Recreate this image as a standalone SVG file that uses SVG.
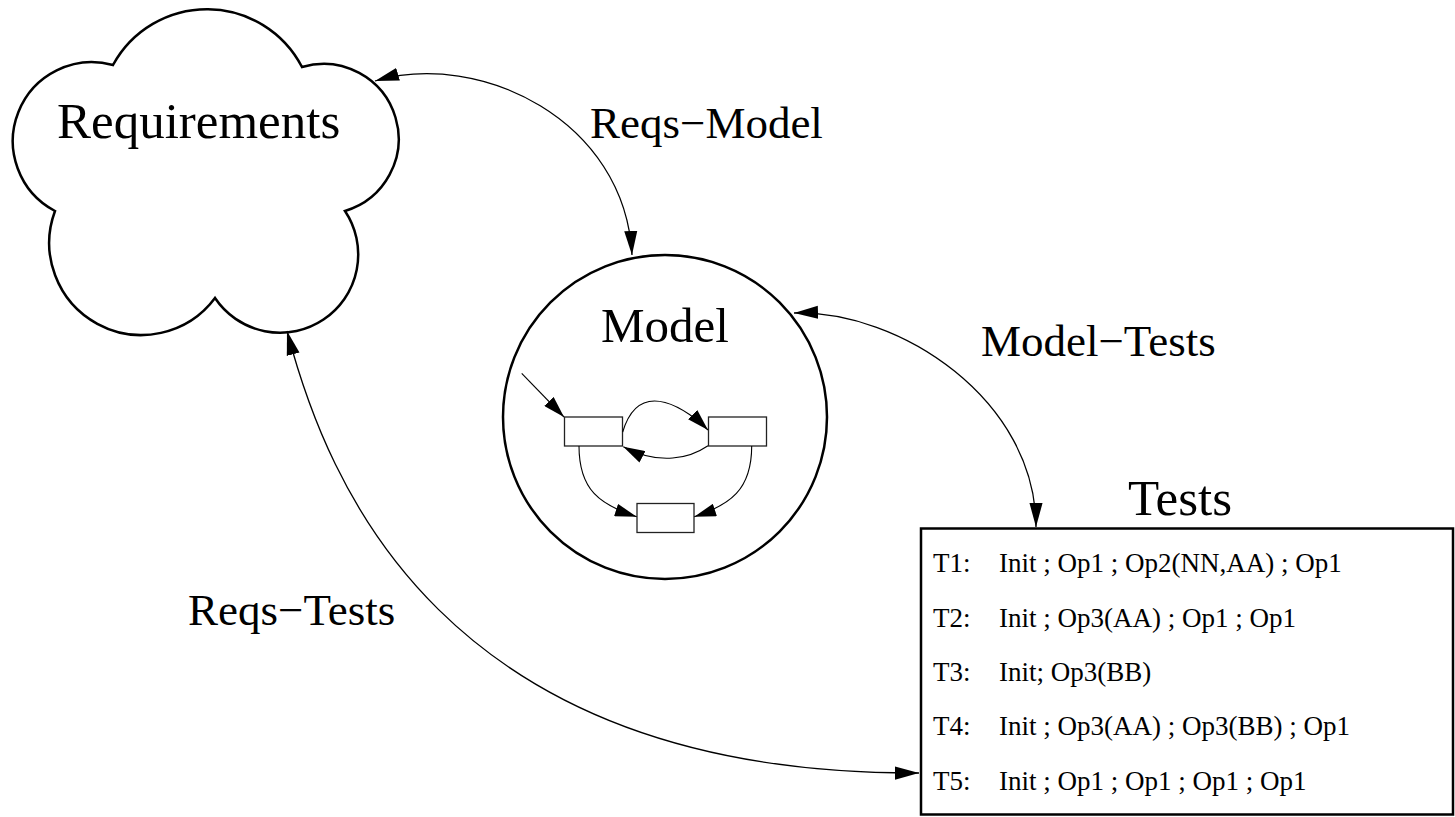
<svg xmlns="http://www.w3.org/2000/svg" width="1455" height="817" viewBox="0 0 1455 817">
  <defs>
    <marker id="head" markerUnits="userSpaceOnUse" markerWidth="24" markerHeight="14" viewBox="0 0 22 12" refX="22" refY="6" orient="auto-start-reverse">
      <path d="M0,0 L22,6 L0,12 Z" fill="#000"/>
    </marker>
    <marker id="headSmall" markerUnits="userSpaceOnUse" markerWidth="22" markerHeight="13" viewBox="0 0 20 12" refX="20" refY="6" orient="auto">
      <path d="M0,0 L20,6 L0,12 Z" fill="#000"/>
    </marker>
  </defs>
  <style>
    .outline { fill: #fff; stroke: #000; stroke-width: 2.5; }
    .title { font-family: "Liberation Serif", "Times New Roman", serif; fill: #000; }
    .big { font-size: 51px; }
    .label { font-size: 45px; }
    .row { font-size: 27px; }
    .link { fill: none; stroke: #000; stroke-width: 1.3; }
    .state { fill: #fff; stroke: #222; stroke-width: 1.3; }
    .trans { fill: none; stroke: #000; stroke-width: 1.1; }
  </style>

  <rect width="1455" height="817" fill="#fff"/>

  <!-- Requirements cloud -->
  <g id="requirements">
    <path class="outline" d="M113,65 A107,107 0 0 1 302,67 A75,75 0 0 1 345,211 A78,78 0 0 1 215,298 A92,92 0 0 1 55,211 A79,79 0 0 1 113,65 Z"/>
    <text class="title big" x="57" y="138">Requirements</text>
  </g>

  <!-- Model: circle with a small state machine inside -->
  <g id="model">
    <circle class="outline" cx="665" cy="417" r="162"/>
    <text class="title" x="601" y="342" font-size="49">Model</text>
    <g id="model-states">
      <rect class="state" x="564.5" y="417" width="58" height="29"/>
      <rect class="state" x="708.5" y="417" width="58" height="29"/>
      <rect class="state" x="637" y="503.5" width="57" height="29"/>
      <path class="trans" marker-end="url(#headSmall)" d="M521.7,373.3 L564,417"/>
      <path class="trans" marker-end="url(#headSmall)" d="M622.7,432 C640,374 690,412 708,430"/>
      <path class="trans" marker-end="url(#headSmall)" d="M708,445.7 C690,458 660,466 623.3,446.7"/>
      <path class="trans" marker-end="url(#headSmall)" d="M579,446 C579,490 600,505 636.7,516.7"/>
      <path class="trans" marker-end="url(#headSmall)" d="M751.7,446 C751.7,490 730,505 694.3,516.7"/>
    </g>
  </g>

  <!-- Tests box -->
  <g id="tests">
    <text class="title big" x="1128" y="515">Tests</text>
    <rect class="outline" x="921" y="528.5" width="532" height="286"/>
    <g class="title row">
      <text x="933" y="572">T1:</text><text x="999" y="572">Init ; Op1 ; Op2(NN,AA) ; Op1</text>
      <text x="933" y="627">T2:</text><text x="999" y="627">Init ; Op3(AA) ; Op1 ; Op1</text>
      <text x="933" y="681">T3:</text><text x="999" y="681">Init; Op3(BB)</text>
      <text x="933" y="735">T4:</text><text x="999" y="735">Init ; Op3(AA) ; Op3(BB) ; Op1</text>
      <text x="933" y="790">T5:</text><text x="999" y="790">Init ; Op1 ; Op1 ; Op1 ; Op1</text>
    </g>
  </g>

  <!-- Traceability links, arrowheads at both ends -->
  <g id="connectors">
    <path class="link" marker-start="url(#head)" marker-end="url(#head)" d="M375,81 C480,50 625,120 632,255"/>
    <path class="link" marker-start="url(#head)" marker-end="url(#head)" d="M794,313 C900,310 1036,400 1036,527"/>
    <path class="link" marker-start="url(#head)" marker-end="url(#head)" d="M287,331 C327,482 440,775 919,773"/>
    <text class="title label" x="590" y="138">Reqs−Model</text>
    <text class="title label" x="981" y="356">Model−Tests</text>
    <text class="title label" x="188" y="625">Reqs−Tests</text>
  </g>
</svg>
